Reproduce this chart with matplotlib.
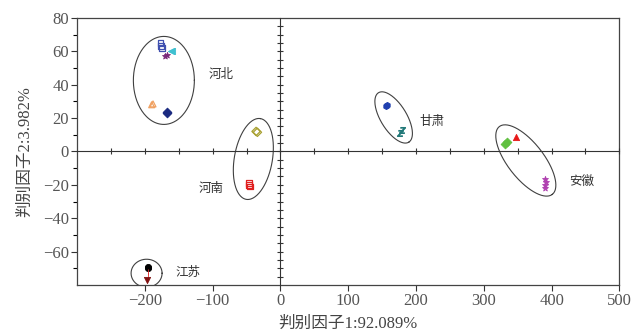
import numpy as np
import matplotlib
matplotlib.use('Agg')
from matplotlib import pyplot as plt

plt.rcParams['font.family'] = ['Liberation Serif', 'Noto Sans CJK SC']

# Точки груп (判别因子1, 判别因子2)
hebei_sq_x = [-177, -176, -175]
hebei_sq_y = [65, 63, 62]
hebei_cy_x = [-162, -160]
hebei_cy_y = [60, 60.5]
hebei_st_x = [-170, -168]
hebei_st_y = [57, 58]
hebei_tr_x = [-190, -188]
hebei_tr_y = [28, 28.5]
hebei_di_x = [-168, -167]
hebei_di_y = [23, 23.5]

henan_di_x = [-36, -34]
henan_di_y = [12, 11.5]
henan_sq_x = [-47, -46, -45]
henan_sq_y = [-19, -20, -21]

gansu_di_x = [155, 157]
gansu_di_y = [27, 28]
gansu_st_x = [177, 179]
gansu_st_y = [11, 13]

anhui_di_x = [332, 334]
anhui_di_y = [4.5, 5.5]
anhui_tr_x = [348]
anhui_tr_y = [8.5]
anhui_st_x = [391, 392, 390, 391]
anhui_st_y = [-16.5, -18.5, -20, -22]

jiangsu_bk_x = [-196, -195]
jiangsu_bk_y = [-69.5, -70]
jiangsu_rd_x = [-196, -195]
jiangsu_rd_y = [-72, -74]
jiangsu_tr_x = [-197]
jiangsu_tr_y = [-77]

# Назви провінцій
label_names = ['河北', '河南', '甘肃', '安徽', '江苏']
label_x = [-88, -102, 223, 445, -137]
label_y = [46, -22, 18, -18, -72.5]

# Еліпси: центр (дані), півосі (пікселі), кут
ell_cx = [-172, -40, 167, 362, -197.5]
ell_cy = [42.6, -4.5, 20.4, -5.4, -73]
ell_a = [30.5, 41, 29, 43, 15.5]
ell_b = [44, 19, 13, 18, 14]
ell_ang = [0, 80, -58.5, -52, 0]

fig = plt.figure(figsize=(6.32, 3.34), dpi=100)
ax = fig.add_axes([0.122, 0.147, 0.858, 0.799])
ax.set_xlim(-300, 500)
ax.set_ylim(-80, 80)

groups = [
    (hebei_sq_x, hebei_sq_y, 's', '#4050b0', False),
    (hebei_cy_x, hebei_cy_y, '<', '#40c0d0', True),
    (hebei_st_x, hebei_st_y, '*', '#7a2a7a', True),
    (hebei_tr_x, hebei_tr_y, '^', '#f0a060', False),
    (hebei_di_x, hebei_di_y, 'D', '#1a2a80', True),
    (henan_di_x, henan_di_y, 'D', '#a8a030', False),
    (henan_sq_x, henan_sq_y, 's', '#e02020', False),
    (gansu_di_x, gansu_di_y, 'h', '#2040b0', True),
    (gansu_st_x, gansu_st_y, '$z$', '#207878', True),
    (anhui_di_x, anhui_di_y, 'D', '#60c040', True),
    (anhui_tr_x, anhui_tr_y, '^', '#e81818', True),
    (anhui_st_x, anhui_st_y, '*', '#b040b0', True),
    (jiangsu_bk_x, jiangsu_bk_y, 'o', '#000000', True),
    (jiangsu_rd_x, jiangsu_rd_y, '|', '#e03030', True),
    (jiangsu_tr_x, jiangsu_tr_y, 'v', '#801010', True),
]
for gx, gy, m, c, filled in groups:
    if filled:
        ax.scatter(gx, gy, marker=m, s=20, color=c, linewidths=0.6, zorder=3)
    else:
        ax.scatter(gx, gy, marker=m, s=18, facecolors='none', edgecolors=c,
                   linewidths=0.9, zorder=3)

# Еліпси в піксельних координатах
fig.canvas.draw()
t = np.linspace(0, 2 * np.pi, 200)
for cx, cy, a, b, ang in zip(ell_cx, ell_cy, ell_a, ell_b, ell_ang):
    c0 = ax.transData.transform((cx, cy))
    th = np.radians(ang)
    px = c0[0] + a * np.cos(t) * np.cos(th) - b * np.sin(t) * np.sin(th)
    py = c0[1] + a * np.cos(t) * np.sin(th) + b * np.sin(t) * np.cos(th)
    pts = ax.transData.inverted().transform(np.column_stack([px, py]))
    ax.plot(pts[:, 0], pts[:, 1], color='#404040', lw=0.8, zorder=2)

for name, lx, ly in zip(label_names, label_x, label_y):
    ax.text(lx, ly, name, fontsize=9, color='#333333', ha='center', va='center',
            family=['Noto Sans CJK SC'])

# Зовнішні осі
ax.set_xticks(np.arange(-200, 501, 100))
ax.set_yticks(np.arange(-60, 81, 20))
ax.set_yticks(np.arange(-70, 80, 20), minor=True)
ax.tick_params(axis='both', direction='out', length=4, width=0.8, labelsize=12,
               colors='#333333', labelcolor='#555555', pad=2)
ax.tick_params(axis='y', which='minor', direction='out', length=3, width=0.8)
for sp in ax.spines.values():
    sp.set_color('#444444')
    sp.set_linewidth(0.9)

ax.set_xlabel('判别因子1:92.089%', fontsize=12, color='#444444', labelpad=5)
ax.set_ylabel('判别因子2:3.982%', fontsize=12, color='#444444', labelpad=7)

# Центральні осі через нуль
ax2 = fig.add_axes(ax.get_position())
ax2.set_xlim(-300, 500)
ax2.set_ylim(-80, 80)
ax2.patch.set_alpha(0)
ax2.spines['top'].set_visible(False)
ax2.spines['right'].set_visible(False)
ax2.spines['left'].set_position(('data', 0))
ax2.spines['bottom'].set_position(('data', 0))
ax2.spines['left'].set_color('#333333')
ax2.spines['bottom'].set_color('#333333')
ax2.set_xticks(np.arange(-250, 501, 50))
ax2.set_yticks(np.arange(-75, 80, 5))
ax2.tick_params(direction='inout', length=4, width=0.8, labelleft=False,
                labelbottom=False, colors='#333333')

fig.savefig('out.png', dpi=100)
